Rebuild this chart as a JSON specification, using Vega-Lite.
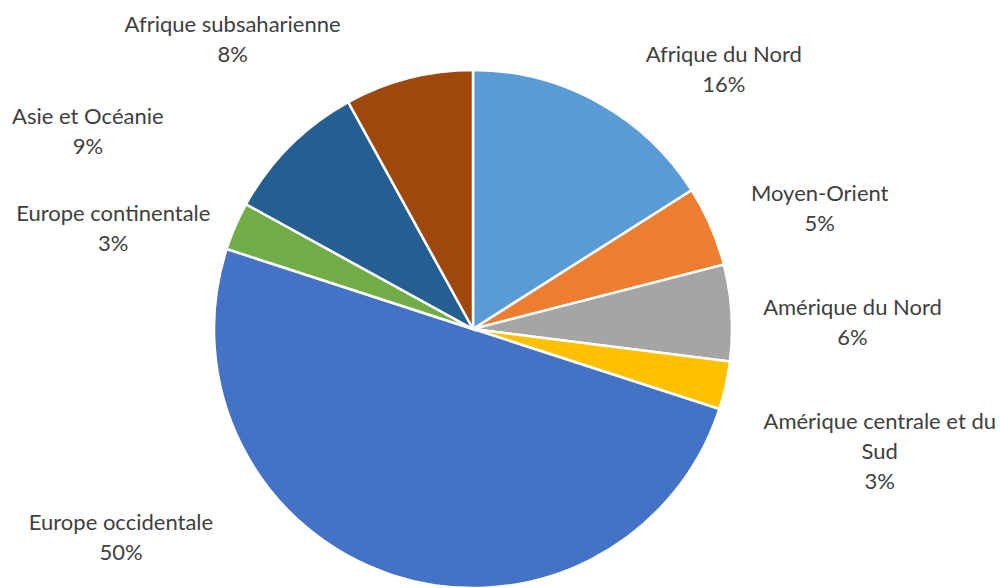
{
  "$schema": "https://vega.github.io/schema/vega-lite/v6.json",
  "autosize": {"type": "none"},
  "width": 946,
  "height": 518,
  "padding": {"left": 0, "top": 70, "right": 54, "bottom": 0},
  "background": "white",
  "config": {"view": {"stroke": null}, "text": {"font": "Lato", "fontSize": 22, "color": "#404040", "lineBreak": "\n", "lineHeight": 30, "align": "center", "baseline": "middle"}},
  "data": {"values": [
    {"region": "Afrique du Nord", "label": "Afrique du Nord", "value": 16, "order": 1},
    {"region": "Moyen-Orient", "label": "Moyen-Orient", "value": 5, "order": 2},
    {"region": "Amérique du Nord", "label": "Amérique du Nord", "value": 6, "order": 3},
    {"region": "Amérique centrale et du Sud", "label": "Amérique centrale et du\nSud", "value": 3, "order": 4},
    {"region": "Europe occidentale", "label": "Europe occidentale", "value": 50, "order": 5},
    {"region": "Europe continentale", "label": "Europe continentale", "value": 3, "order": 6},
    {"region": "Asie et Océanie", "label": "Asie et Océanie", "value": 9, "order": 7},
    {"region": "Afrique subsaharienne", "label": "Afrique subsaharienne", "value": 8, "order": 8}
  ]},
  "transform": [{"calculate": "datum.label + '\\n' + datum.value + '%'", "as": "txt"}],
  "encoding": {
    "theta": {"field": "value", "type": "quantitative", "stack": true},
    "order": {"field": "order", "type": "quantitative"},
    "detail": {"field": "region", "type": "nominal"}
  },
  "layer": [
    {
      "mark": {"type": "arc", "outerRadius": 259, "stroke": "white", "strokeWidth": 2.5},
      "encoding": {
        "color": {"field": "region", "type": "nominal", "legend": null,
          "scale": {"domain": ["Afrique du Nord", "Moyen-Orient", "Amérique du Nord", "Amérique centrale et du Sud", "Europe occidentale", "Europe continentale", "Asie et Océanie", "Afrique subsaharienne"],
                    "range": ["#5B9BD5", "#ED7D31", "#A5A5A5", "#FFC000", "#4472C4", "#70AD47", "#255E91", "#9E480E"]}}
      }
    },
    {"mark": {"type": "text", "radius": 259, "dx": 126, "dy": -47},
     "encoding": {"text": {"condition": {"test": "datum.region === 'Afrique du Nord'", "field": "txt"}, "value": ""}}},
    {"mark": {"type": "text", "radius": 259, "dx": 109, "dy": -32},
     "encoding": {"text": {"condition": {"test": "datum.region === 'Moyen-Orient'", "field": "txt"}, "value": ""}}},
    {"mark": {"type": "text", "radius": 259, "dx": 121, "dy": -5},
     "encoding": {"text": {"condition": {"test": "datum.region === 'Amérique du Nord'", "field": "txt"}, "value": ""}}},
    {"mark": {"type": "text", "radius": 259, "dx": 154, "dy": 37},
     "encoding": {"text": {"condition": {"test": "datum.region === 'Amérique centrale et du Sud'", "field": "txt"}, "value": ""}}},
    {"mark": {"type": "text", "radius": 259, "dx": -272, "dy": -52},
     "encoding": {"text": {"condition": {"test": "datum.region === 'Europe occidentale'", "field": "txt"}, "value": ""}}},
    {"mark": {"type": "text", "radius": 259, "dx": -122, "dy": -12},
     "encoding": {"text": {"condition": {"test": "datum.region === 'Europe continentale'", "field": "txt"}, "value": ""}}},
    {"mark": {"type": "text", "radius": 259, "dx": -202, "dy": -29},
     "encoding": {"text": {"condition": {"test": "datum.region === 'Asie et Océanie'", "field": "txt"}, "value": ""}}},
    {"mark": {"type": "text", "radius": 259, "dx": -176, "dy": -53},
     "encoding": {"text": {"condition": {"test": "datum.region === 'Afrique subsaharienne'", "field": "txt"}, "value": ""}}}
  ]
}
